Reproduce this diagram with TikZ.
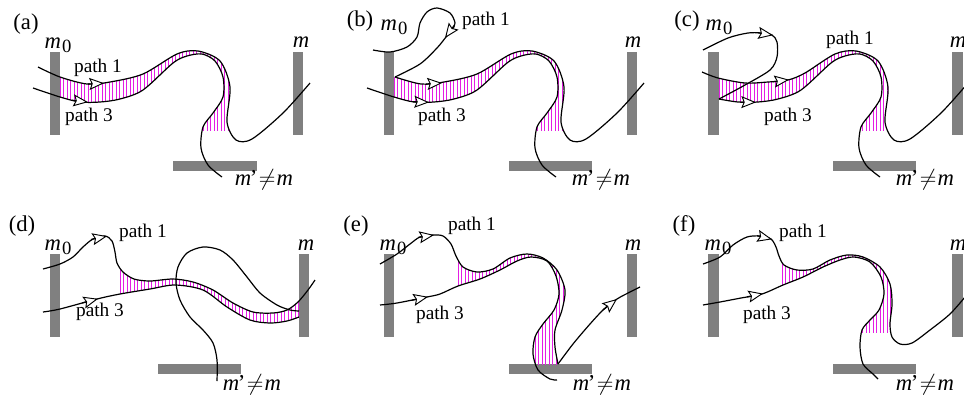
\documentclass[tikz,border=0pt]{standalone}
\usepackage{fontspec}
\setmainfont{Liberation Serif}
\usetikzlibrary{arrows.meta}
\definecolor{mirrorgray}{RGB}{128,128,128}
\definecolor{hatchpink}{RGB}{228,30,228}
\tikzset{
  mirror/.style={fill=mirrorgray},
  ray/.style={line width=0.9pt, line join=round},
  raytip/.style={line width=0.9pt, -{Stealth[length=11pt, width=9pt, inset=1.8pt, fill=white, line width=0.7pt]}},
  hatchline/.style={draw=hatchpink, line width=0.6pt},
  pathlabel/.style={font=\fontsize{14.5}{16}\selectfont, inner sep=0pt},
  biglabel/.style={font=\fontsize{17}{20}\selectfont, inner sep=0pt},
}
\newcommand{\mzero}{\textit{m}\kern0.8pt\raisebox{-3pt}{\fontsize{14}{15}\selectfont 0}}
\newcommand{\mneq}{\textit{m}\kern-1pt’\kern1pt$\neq$\kern1pt\textit{m}}
\begin{document}
\begin{tikzpicture}[x=0.75pt, y=-0.75pt]
\clip (0,0) rectangle (964,394);
\fill[white] (0,0) rectangle (964,394);

% (a)
\begin{scope}[shift={(50,52)}]
\fill[mirror] (0,0) rectangle (10,83);
\fill[mirror] (243,0) rectangle (253,83);
\fill[mirror] (123,109) rectangle (207,119);
\begin{scope}
  \clip (10,-10) rectangle (190,78);
  \clip plot[smooth] coordinates {(-12,15) (10,25) (37,32) (60,30) (93,22) (127,2) (148,-1) (170,9) (180,35) (177,70) (186,88) (202,87) (233,61) (260,31)}
    -- plot[smooth] coordinates {(172,125) (158,113) (151,96) (153,75) (163,61) (173,45) (173,25) (165,9) (152,2) (137,4) (123,11) (93,38) (70,47) (50,50) (30,50) (10,45) (-17,36)} -- cycle;
  \foreach \hx in {10,13.5,...,190} \draw[hatchline] (\hx,-10) -- (\hx,80);
\end{scope}
\draw[ray] plot[smooth] coordinates {(-12,15) (10,25) (37,32) (60,30) (93,22) (127,2) (148,-1) (170,9) (180,35) (177,70) (186,88) (202,87) (233,61) (260,31)};
\draw[ray] plot[smooth] coordinates {(-17,36) (10,45) (30,50) (50,50) (70,47) (93,38) (123,11) (137,4) (152,2) (165,9) (173,25) (173,45) (163,61) (153,75) (151,96) (158,113) (172,125)};
\draw[raytip] (38,32) -- (54,31.2);
\draw[raytip] (22,48.2) -- (38,50.1);
\node[biglabel] (tagA) at (-24,-28) {(a)};
\node[biglabel] (mzA) at (8,-7) {\mzero};
\node[biglabel] (mA) at (251,-10) {\textit{m}};
\node[pathlabel] (pA) at (48,16) {path 1};
\node[pathlabel] (qA) at (39,65) {path 3};
\node[biglabel] (nA) at (214,128) {\mneq};
\end{scope}

% (b)
\begin{scope}[shift={(384,52)}]
\fill[mirror] (0,0) rectangle (10,83);
\fill[mirror] (243,0) rectangle (253,83);
\fill[mirror] (125,109) rectangle (208,119);
\begin{scope}
  \clip (10,-10) rectangle (190,78);
  \clip plot[smooth] coordinates {(11,25) (37,32) (60,30) (93,22) (127,2) (148,-1) (170,9) (180,35) (177,70) (186,88) (202,87) (233,61) (260,31)}
    -- plot[smooth] coordinates {(172,125) (158,113) (151,96) (153,75) (163,61) (173,45) (173,25) (165,9) (152,2) (137,4) (123,11) (93,38) (70,47) (50,50) (30,50) (10,45) (-17,36)} -- cycle;
  \foreach \hx in {10,13.5,...,190} \draw[hatchline] (\hx,-10) -- (\hx,80);
\end{scope}
\draw[ray] plot[smooth] coordinates {(-11,-2) (6,0) (23,-5) (33,-15) (36,-29) (43,-40) (53,-44) (66,-39) (71,-29) (68,-22) (62,-15) (53,-4) (36,12) (11,25)};
\draw[ray] plot[smooth] coordinates {(11,25) (37,32) (60,30) (93,22) (127,2) (148,-1) (170,9) (180,35) (177,70) (186,88) (202,87) (233,61) (260,31)};
\draw[ray] plot[smooth] coordinates {(-17,36) (10,45) (30,50) (50,50) (70,47) (93,38) (123,11) (137,4) (152,2) (165,9) (173,25) (173,45) (163,61) (153,75) (151,96) (158,113) (172,125)};
\draw[raytip] (70.5,-27) -- (61,-14);
\draw[raytip] (42,32) -- (58,31);
\draw[raytip] (29,49.7) -- (45,50.3);
\node[biglabel] (tagB) at (-24,-31) {(b)};
\node[biglabel] (mzB) at (10,-25) {\mzero};
\node[biglabel] (mB) at (249,-10) {\textit{m}};
\node[pathlabel] (pB) at (102,-31) {path 1};
\node[pathlabel] (qB) at (58,65) {path 3};
\node[biglabel] (nB) at (217,128) {\mneq};
\end{scope}

% (c)
\begin{scope}[shift={(708,52)}]
\fill[mirror] (0,0) rectangle (11,83);
\fill[mirror] (244,0) rectangle (255,83);
\fill[mirror] (125,109) rectangle (208,119);
\begin{scope}
  \clip (11,-10) rectangle (190,78);
  \clip plot[smooth] coordinates {(-6,20) (10,26) (37,31) (60,30) (80,28) (97,21) (127,2) (148,-1) (170,9) (180,35) (177,70) (186,88) (202,87) (233,61) (260,31)}
    -- plot[smooth] coordinates {(172,125) (158,113) (151,96) (153,75) (163,61) (173,45) (173,25) (165,9) (152,2) (137,4) (123,11) (93,38) (70,47) (50,50) (30,50) (11,47)} -- cycle;
  \foreach \hx in {11,14.5,...,190} \draw[hatchline] (\hx,-10) -- (\hx,80);
\end{scope}
\draw[ray] plot[smooth] coordinates {(-5,-2) (20,-14) (40,-19) (53,-19) (64,-17) (69,-10) (69,5) (62,18) (37,33) (11,47)};
\draw[ray] plot[smooth] coordinates {(-6,20) (10,26) (37,31) (60,30) (80,28) (97,21) (127,2) (148,-1) (170,9) (180,35) (177,70) (186,88) (202,87) (233,61) (260,31)};
\draw[ray] plot[smooth] coordinates {(11,47) (30,50) (50,50) (70,47) (93,38) (123,11) (137,4) (152,2) (165,9) (173,25) (173,45) (163,61) (153,75) (151,96) (158,113) (172,125)};
\draw[raytip] (50,-19.2) -- (65,-16.8);
\draw[raytip] (65,29.7) -- (81,27.7);
\draw[raytip] (32,50.1) -- (48,50.3);
\node[biglabel] (tagC) at (-21,-31) {(c)};
\node[biglabel] (mzC) at (11,-25) {\mzero};
\node[biglabel] (mC) at (250,-10) {\textit{m}};
\node[pathlabel] (pC) at (142,-12) {path 1};
\node[pathlabel] (qC) at (80,65) {path 3};
\node[biglabel] (nC) at (217,128) {\mneq};
\end{scope}

% (d)
\begin{scope}[shift={(50,254)}]
\fill[mirror] (0,0) rectangle (10,83);
\fill[mirror] (249,0) rectangle (259,83);
\fill[mirror] (108,110) rectangle (191,120);
\begin{scope}
  \clip (70,-10) rectangle (249,80);
  \clip plot[smooth] coordinates {(-7,15) (10,10) (23,3) (33,-7) (43,-15) (55,-18) (62,-13) (65,-2) (67,9) (73,18) (84,25) (100,27) (123,25) (143,28) (163,36) (183,49) (203,58) (223,59) (237,56) (248,48) (258,36) (265,26)}
    -- plot[smooth] coordinates {(249,63) (237,67) (220,69) (200,66) (177,53) (153,36) (125,31) (100,35) (70,40) (47,45) (10,55) (-7,58)} -- cycle;
  \foreach \hx in {70,73.5,...,250} \draw[hatchline] (\hx,-10) -- (\hx,80);
\end{scope}
\draw[ray] plot[smooth] coordinates {(-7,15) (10,10) (23,3) (33,-7) (43,-15) (55,-18) (62,-13) (65,-2) (67,9) (73,18) (84,25) (100,27) (123,25) (143,28) (163,36) (183,49) (203,58) (223,59) (237,56) (248,48) (258,36) (265,26)};
\draw[ray] plot[smooth] coordinates {(-7,58) (10,55) (47,45) (70,40) (100,35) (125,31) (153,36) (177,53) (200,66) (220,69) (237,67) (249,63)};
\draw[ray] plot[smooth] coordinates {(249,57) (240,56) (227,51) (210,39) (197,23) (183,6) (170,-4) (153,-7) (137,-1) (128,13) (126,29) (130,46) (140,63) (153,76) (163,89) (167,106) (167,127)};
\draw[raytip] (41,-14.5) -- (57,-17.8);
\draw[raytip] (32,49) -- (48,44.8);
\node[biglabel] (tagD) at (-28,-28) {(d)};
\node[biglabel] (mzD) at (8,-7) {\mzero};
\node[biglabel] (mD) at (256,-9) {\textit{m}};
\node[pathlabel] (pD) at (93,-21) {path 1};
\node[pathlabel] (qD) at (50,58) {path 3};
\node[biglabel] (nD) at (202,131) {\mneq};
\end{scope}

% (e)
\begin{scope}[shift={(384,254)}]
\fill[mirror] (0,0) rectangle (10,83);
\fill[mirror] (243,0) rectangle (253,83);
\fill[mirror] (125,110) rectangle (208,120);
\begin{scope}
  \clip (74,-10) rectangle (243,110);
  \clip plot[smooth] coordinates {(-4,10) (13,0) (26,-10) (36,-17) (49,-19) (59,-18) (67,-10) (72,2) (79,13) (93,18) (109,15) (126,4) (143,0) (159,4) (173,16) (181,36) (178,56) (171,76) (171,93) (174,110)}
    -- plot[smooth] coordinates {(173,126) (166,125) (154,116) (149,100) (151,83) (159,70) (170,56) (175,40) (172,22) (163,7) (147,3) (133,7) (116,16) (96,25) (74,32) (56,40) (43,43) (13,49) (-4,51)} -- cycle;
  \foreach \hx in {74,77.5,...,243} \draw[hatchline] (\hx,-10) -- (\hx,112);
\end{scope}
\draw[ray] plot[smooth] coordinates {(-4,10) (13,0) (26,-10) (36,-17) (49,-19) (59,-18) (67,-10) (72,2) (79,13) (93,18) (109,15) (126,4) (143,0) (159,4) (173,16) (181,36) (178,56) (171,76) (171,93) (174,110)};
\draw[ray] plot[smooth] coordinates {(174,110) (189,90) (206,70) (220,55) (233,45) (246,38) (256,33)};
\draw[ray] plot[smooth] coordinates {(-4,51) (13,49) (43,43) (56,40) (74,32) (96,25) (116,16) (133,7) (147,3) (163,7) (172,22) (175,40) (170,56) (159,70) (151,83) (149,100) (154,116) (166,125) (173,126)};
\draw[raytip] (34,-16.5) -- (50,-19);
\draw[raytip] (219,56) -- (233,45);
\draw[raytip] (28,46.2) -- (44,42.8);
\node[biglabel] (tagE) at (-28,-28) {(e)};
\node[biglabel] (mzE) at (9,-7) {\mzero};
\node[biglabel] (mE) at (249,-9) {\textit{m}};
\node[pathlabel] (pE) at (88,-28) {path 1};
\node[pathlabel] (qE) at (56,61) {path 3};
\node[biglabel] (nE) at (218,131) {\mneq};
\end{scope}

% (f)
\begin{scope}[shift={(708,254)}]
\fill[mirror] (0,0) rectangle (11,83);
\fill[mirror] (244,0) rectangle (255,83);
\fill[mirror] (125,110) rectangle (208,120);
\begin{scope}
  \clip (74,-10) rectangle (190,78);
  \clip plot[smooth] coordinates {(-5,10) (12,3) (25,-9) (39,-17) (52,-18) (63,-15) (68,-7) (71,2) (76,11) (89,16) (105,15) (122,6) (139,1) (155,3) (172,13) (182,30) (184,50) (182,70) (184,83) (192,90) (204,89) (222,76) (242,60) (257,43)}
    -- plot[smooth] coordinates {(170,125) (165,120) (155,110) (152,93) (154,76) (162,66) (171,56) (176,40) (173,23) (162,8) (146,3) (132,6) (115,13) (95,23) (75,31) (54,40) (33,44) (12,48) (-5,51)} -- cycle;
  \foreach \hx in {74,77.5,...,190} \draw[hatchline] (\hx,-10) -- (\hx,80);
\end{scope}
\draw[ray] plot[smooth] coordinates {(-5,10) (12,3) (25,-9) (39,-17) (52,-18) (63,-15) (68,-7) (71,2) (76,11) (89,16) (105,15) (122,6) (139,1) (155,3) (172,13) (182,30) (184,50) (182,70) (184,83) (192,90) (204,89) (222,76) (242,60) (257,43)};
\draw[ray] plot[smooth] coordinates {(-5,51) (12,48) (33,44) (54,40) (75,31) (95,23) (115,13) (132,6) (146,3) (162,8) (173,23) (176,40) (171,56) (162,66) (154,76) (152,93) (155,110) (165,120) (170,125)};
\draw[raytip] (49,-18.3) -- (64,-14.7);
\draw[raytip] (39,42.9) -- (55,39.6);
\node[biglabel] (tagF) at (-24,-28) {(f)};
\node[biglabel] (mzF) at (10,-7) {\mzero};
\node[biglabel] (mF) at (250,-9) {\textit{m}};
\node[pathlabel] (pF) at (95,-21) {path 1};
\node[pathlabel] (qF) at (59,61) {path 3};
\node[biglabel] (nF) at (217,131) {\mneq};
\end{scope}
\end{tikzpicture}
\end{document}
